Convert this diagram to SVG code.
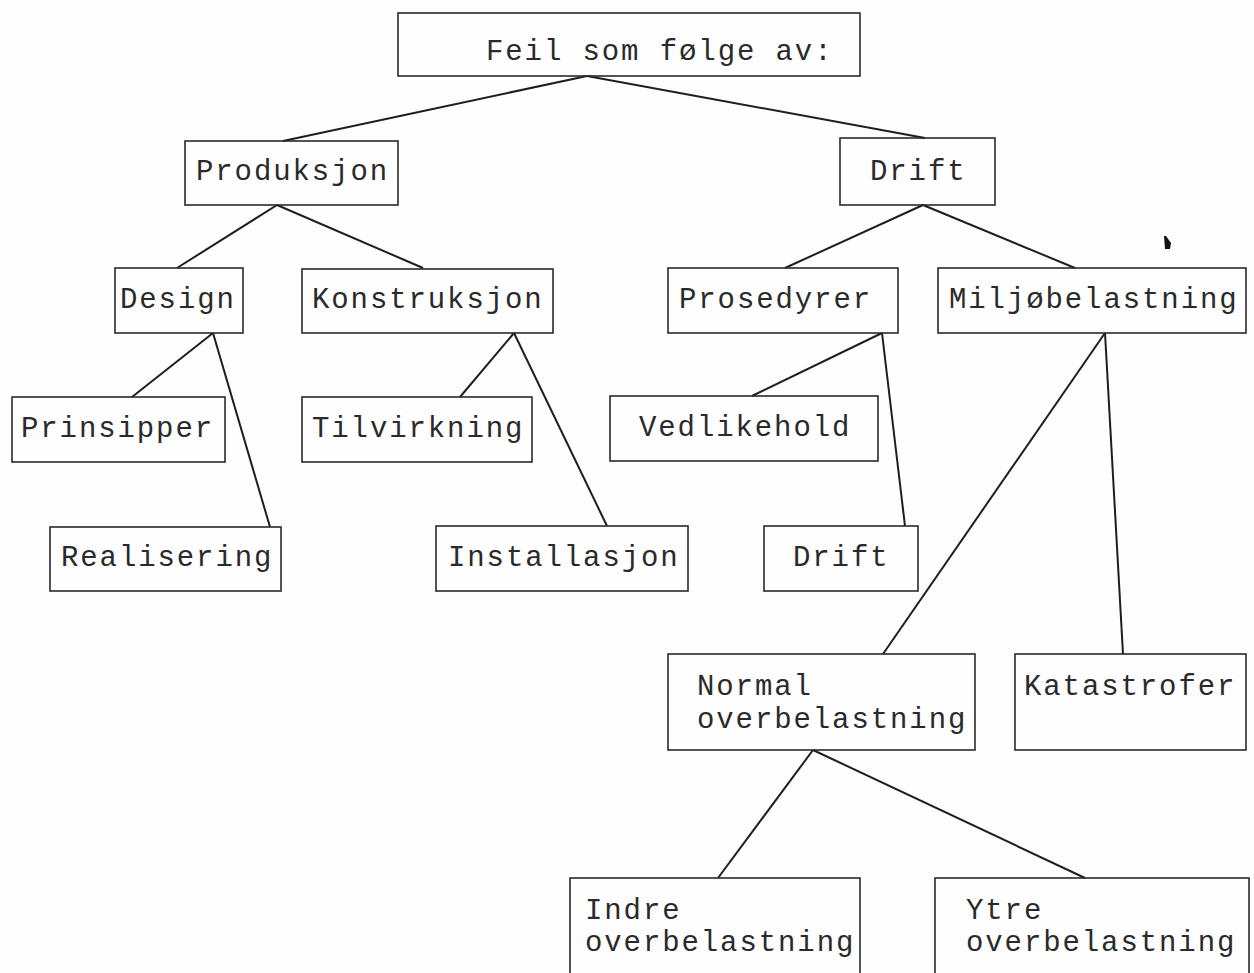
<svg xmlns="http://www.w3.org/2000/svg" width="1254" height="973" viewBox="0 0 1254 973">
<style>
.bg{fill:#fefefe}
.box{fill:none;stroke:#2a2a2a;stroke-width:1.6}
.lbl{font-family:"Liberation Mono","Courier New",monospace;font-size:29px;letter-spacing:1.9px;fill:#2a2a2a}
.con line{stroke:#1e1e1e;stroke-width:2}
</style>
<rect class="bg" x="0" y="0" width="1254" height="973"/>
<g id="connectors" class="con">
<line x1="587" y1="76" x2="283" y2="141"/>
<line x1="587" y1="76" x2="925" y2="138"/>
<line x1="277" y1="205" x2="177" y2="268"/>
<line x1="277" y1="205" x2="423" y2="268"/>
<line x1="923" y1="205" x2="785" y2="268"/>
<line x1="923" y1="205" x2="1075" y2="268"/>
<line x1="213" y1="333" x2="132" y2="397"/>
<line x1="213" y1="333" x2="270" y2="527"/>
<line x1="514" y1="333" x2="460" y2="397"/>
<line x1="514" y1="333" x2="607" y2="526"/>
<line x1="882" y1="333" x2="752" y2="396"/>
<line x1="882" y1="333" x2="905" y2="526"/>
<line x1="1105" y1="333" x2="883" y2="654"/>
<line x1="1105" y1="333" x2="1123" y2="654"/>
<line x1="813" y1="750" x2="718" y2="878"/>
<line x1="813" y1="750" x2="1085" y2="878"/>
</g>
<g id="root"><rect class="box" x="398" y="13" width="462" height="63"/><text class="lbl" x="486" y="60">Feil som følge av:</text></g>
<g id="produksjon"><rect class="box" x="185" y="141" width="213" height="64"/><text class="lbl" x="196" y="180">Produksjon</text></g>
<g id="drift1"><rect class="box" x="840" y="138" width="155" height="67"/><text class="lbl" x="870" y="180">Drift</text></g>
<g id="design"><rect class="box" x="115" y="268" width="128" height="65"/><text class="lbl" x="120" y="308">Design</text></g>
<g id="konstruksjon"><rect class="box" x="302" y="269" width="251" height="64"/><text class="lbl" x="312" y="308">Konstruksjon</text></g>
<g id="prosedyrer"><rect class="box" x="668" y="268" width="230" height="65"/><text class="lbl" x="679" y="308">Prosedyrer</text></g>
<g id="miljobelastning"><rect class="box" x="938" y="268" width="308" height="65"/><text class="lbl" x="949" y="308">Miljøbelastning</text></g>
<g id="prinsipper"><rect class="box" x="12" y="397" width="213" height="65"/><text class="lbl" x="21" y="437">Prinsipper</text></g>
<g id="tilvirkning"><rect class="box" x="302" y="397" width="230" height="65"/><text class="lbl" x="312" y="437">Tilvirkning</text></g>
<g id="vedlikehold"><rect class="box" x="610" y="396" width="268" height="65"/><text class="lbl" x="639" y="436">Vedlikehold</text></g>
<g id="realisering"><rect class="box" x="50" y="527" width="231" height="64"/><text class="lbl" x="61" y="566">Realisering</text></g>
<g id="installasjon"><rect class="box" x="436" y="526" width="252" height="65"/><text class="lbl" x="448" y="566">Installasjon</text></g>
<g id="drift2"><rect class="box" x="764" y="526" width="154" height="65"/><text class="lbl" x="793" y="566">Drift</text></g>
<g id="normal"><rect class="box" x="668" y="654" width="307" height="96"/><text class="lbl" x="697" y="695">Normal</text><text class="lbl" x="697" y="728">overbelastning</text></g>
<g id="katastrofer"><rect class="box" x="1015" y="654" width="231" height="96"/><text class="lbl" x="1024" y="695">Katastrofer</text></g>
<g id="indre"><rect class="box" x="570" y="878" width="290" height="100"/><text class="lbl" x="585" y="919">Indre</text><text class="lbl" x="585" y="951">overbelastning</text></g>
<g id="ytre"><rect class="box" x="935" y="878" width="314" height="100"/><text class="lbl" x="966" y="919">Ytre</text><text class="lbl" x="966" y="951">overbelastning</text></g>
<path d="M1164 236 L1166 236 L1171 243 L1170 249 L1165 249 Z" fill="#111"/>
</svg>
